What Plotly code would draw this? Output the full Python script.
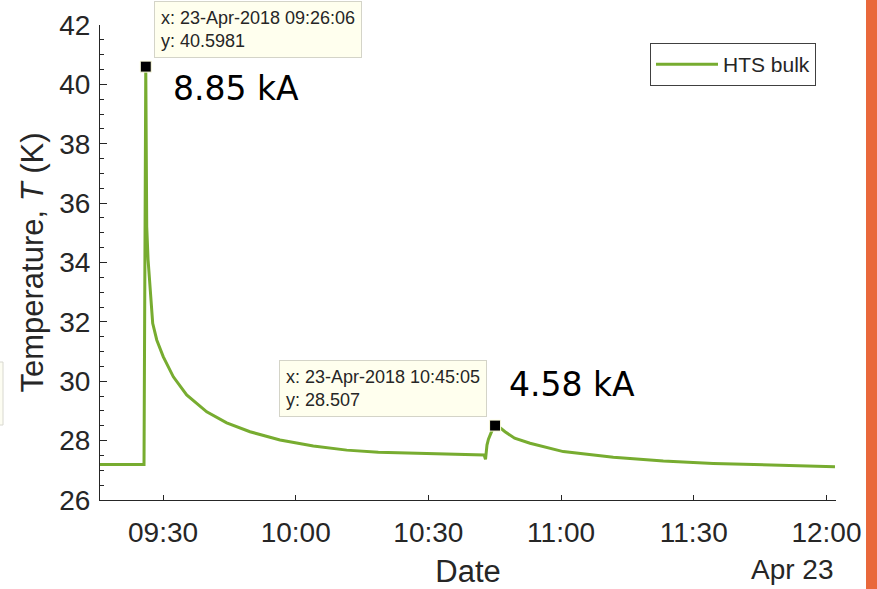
import plotly.graph_objects as go

# ---------------- data ----------------
times = [
    "2018-04-23 09:15:45", "2018-04-23 09:25:42", "2018-04-23 09:26:06",
    "2018-04-23 09:26:12", "2018-04-23 09:26:19", "2018-04-23 09:26:37",
    "2018-04-23 09:27:04", "2018-04-23 09:27:40", "2018-04-23 09:28:35",
    "2018-04-23 09:30:04", "2018-04-23 09:32:20", "2018-04-23 09:35:21",
    "2018-04-23 09:39:53", "2018-04-23 09:44:24", "2018-04-23 09:49:40",
    "2018-04-23 09:56:27", "2018-04-23 10:03:59", "2018-04-23 10:11:32",
    "2018-04-23 10:18:41", "2018-04-23 10:42:35", "2018-04-23 10:42:55",
    "2018-04-23 10:43:00", "2018-04-23 10:43:15", "2018-04-23 10:43:35",
    "2018-04-23 10:44:00", "2018-04-23 10:44:30", "2018-04-23 10:45:05",
    "2018-04-23 10:46:10", "2018-04-23 10:47:20", "2018-04-23 10:49:30",
    "2018-04-23 10:52:59", "2018-04-23 11:00:30", "2018-04-23 11:11:49",
    "2018-04-23 11:23:07", "2018-04-23 11:34:25", "2018-04-23 11:45:44",
    "2018-04-23 12:01:56",
]
temps = [
    27.20, 27.20, 40.5981,
    38.0, 35.2, 34.1,
    33.07, 31.95, 31.39,
    30.82, 30.15, 29.54,
    28.97, 28.60, 28.30,
    28.02, 27.82, 27.68,
    27.61, 27.52, 27.37,
    27.55, 27.85, 28.05,
    28.20, 28.38, 28.507,
    28.44, 28.30, 28.08,
    27.91, 27.63, 27.44,
    27.31, 27.23, 27.18,
    27.12,
]
series_name = "HTS bulk"

tip_times = ["2018-04-23 09:26:06", "2018-04-23 10:45:05"]
tip_values = [40.5981, 28.507]
tip_xlabels = ["23-Apr-2018 09:26:06", "23-Apr-2018 10:45:05"]
tip_ylabels = ["40.5981", "28.507"]
current_labels = ["8.85 kA", "4.58 kA"]

x_tickvals = ["2018-04-23 09:30", "2018-04-23 10:00", "2018-04-23 10:30",
              "2018-04-23 11:00", "2018-04-23 11:30", "2018-04-23 12:00"]
x_ticktext = ["09:30", "10:00", "10:30", "11:00", "11:30", "12:00"]
x_range = ["2018-04-23 09:15:45", "2018-04-23 12:02:10"]
y_range = [26, 42]
date_label = "Apr 23"

# ---------------- figure ----------------
GREEN = "#77AC30"
AX = "#262626"
FONT = "Liberation Sans, Arial, sans-serif"

fig = go.Figure()
fig.add_trace(go.Scatter(
    x=times, y=temps, mode="lines", name=series_name,
    line=dict(color=GREEN, width=3),
    showlegend=True,
))
fig.add_trace(go.Scatter(
    x=tip_times, y=tip_values, mode="markers",
    marker=dict(symbol="square", size=11, color="black",
                line=dict(color="#FFFFE0", width=1)),
    showlegend=False, hoverinfo="skip",
))

annotations = []
# datatips (positioned relative to their data points)
tip_layout = [dict(xanchor="left", xshift=8), dict(xanchor="right", xshift=-8)]
for t, v, xl, yl, lay in zip(tip_times, tip_values, tip_xlabels, tip_ylabels, tip_layout):
    annotations.append(dict(
        x=t, y=v, xref="x", yref="y", showarrow=False,
        text=f"x: {xl}<br>y: {yl}", align="left",
        xanchor=lay["xanchor"], xshift=lay["xshift"],
        yanchor="bottom", yshift=9,
        font=dict(family=FONT, size=18, color="#262626"),
        bgcolor="#FFFFEE", bordercolor="#D4D4C8", borderwidth=1, borderpad=6,
    ))
# current labels
cur_shift = [dict(xshift=25, yshift=-22), dict(xshift=12, yshift=41)]
for t, v, lab, sh in zip(tip_times, tip_values, current_labels, cur_shift):
    annotations.append(dict(
        x=t, y=v, xref="x", yref="y", showarrow=False, text=lab,
        xanchor="left", yanchor="middle", xshift=sh["xshift"], yshift=sh["yshift"],
        font=dict(family="DejaVu Sans", size=33, color="black"),
    ))
# secondary date label
annotations.append(dict(
    x=1, y=-0.147, xref="paper", yref="paper", showarrow=False,
    text=date_label, xanchor="right", yanchor="middle",
    font=dict(family=FONT, size=28, color=AX),
))

shapes = [
    # orange bar at right edge
    dict(type="rect", xref="paper", yref="paper",
         x0=(866 - 100) / 736, x1=(880 - 100) / 736,
         y0=-0.2, y1=1.06, fillcolor="#E9683B", line=dict(width=0), layer="above"),
    # partial box at left edge
    dict(type="rect", xref="paper", yref="paper",
         x0=(-5 - 100) / 736, x1=(3 - 100) / 736,
         y0=(500 - 425) / 475, y1=(500 - 362) / 475,
         fillcolor="#FDFDF2", line=dict(color="#D8D8D0", width=1), layer="above"),
]

fig.update_layout(
    width=877, height=589,
    margin=dict(l=100, r=41, t=25, b=89, autoexpand=False),
    paper_bgcolor="white", plot_bgcolor="white",
    font=dict(family=FONT, color=AX, size=28),
    showlegend=True,
    legend=dict(
        x=(650 - 100) / 736, y=(500 - 43) / 475, xanchor="left", yanchor="top",
        bordercolor="#404040", borderwidth=1, bgcolor="white",
        font=dict(family=FONT, size=21, color="#262626"),
        itemwidth=62,
    ),
    annotations=annotations,
    shapes=shapes,
    xaxis=dict(
        type="date", range=x_range, automargin=False,
        tickvals=x_tickvals, ticktext=x_ticktext,
        ticks="inside", ticklen=5, tickcolor=AX,
        showline=True, linecolor=AX, linewidth=1,
        showgrid=False, zeroline=False,
        ticklabelstandoff=7,
        tickfont=dict(family=FONT, size=28, color=AX),
        title=dict(text="Date", font=dict(family=FONT, size=31, color=AX), standoff=13),
    ),
    yaxis=dict(
        range=y_range, dtick=2, tick0=26, automargin=False,
        ticks="inside", ticklen=7, tickcolor=AX,
        minor=dict(dtick=0.5, ticks="inside", ticklen=4, tickcolor=AX),
        showline=True, linecolor=AX, linewidth=1,
        showgrid=False, zeroline=False,
        ticklabelstandoff=3,
        tickfont=dict(family=FONT, size=28, color=AX),
        title=dict(text="Temperature, <i>T</i> (K)",
                   font=dict(family=FONT, size=31, color=AX), standoff=6),
    ),
)

fig.write_html("out.html",
               config={"displayModeBar": False},
               post_script="document.body.style.margin='0';document.body.style.overflow='hidden';")
